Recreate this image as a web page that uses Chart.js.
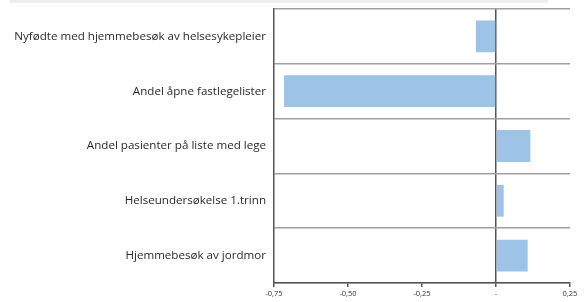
<!DOCTYPE html>
<html>
<head>
<meta charset="utf-8">
<script src="https://cdn.jsdelivr.net/npm/chart.js@4/dist/chart.umd.min.js"></script>
<style>
  html, body { margin: 0; padding: 0; background: #fff; }
  #wrap { position: relative; width: 585px; height: 302px; }
  #topband { position: absolute; left: 10px; top: 0; width: 538px; height: 3px; background: #eeeeee; }
  canvas { position: absolute; left: 0; top: 0; }
</style>
</head>
<body>
<div id="wrap">
  <canvas id="chart" width="585" height="302"></canvas>
  <div id="topband"></div>
</div>
<script>
const categories = [
  "Nyfødte med hjemmebesøk av helsesykepleier",
  "Andel åpne fastlegelister",
  "Andel pasienter på liste med lege",
  "Helseundersøkelse 1.trinn",
  "Hjemmebesøk av jordmor"
];
const values = [-0.068, -0.716, 0.116, 0.026, 0.107];
const tickValues = [-0.75, -0.5, -0.25, 0, 0.25];

const axisColor = "#555";
const gridColor = "#a0a0a0";

// x-akse etiketter med komma, null vises som "-"
function fmt(v) {
  if (Math.abs(v) < 1e-9) return "-";
  return v.toFixed(2).replace(".", ",");
}

const ctx = document.getElementById("chart").getContext("2d");
const chart = new Chart(ctx, {
  type: "bar",
  data: {
    labels: categories,
    datasets: [{
      data: values,
      backgroundColor: "#9dc3e6",
      borderWidth: 0,
      barPercentage: 0.58,
      categoryPercentage: 1
    }]
  },
  options: {
    indexAxis: "y",
    responsive: false,
    animation: false,
    layout: { padding: { top: 9, right: 15, left: 0, bottom: 0 } },
    plugins: { legend: { display: false }, tooltip: { enabled: false } },
    scales: {
      x: {
        min: -0.75,
        max: 0.25,
        afterBuildTicks: s => { s.ticks = tickValues.map(v => ({ value: v })); },
        afterFit: s => { s.height = 19; },
        border: { display: true, color: axisColor, width: 1.5 },
        grid: {
          color: c => (c.tick && c.tick.value === 0 ? axisColor : "transparent"),
          lineWidth: 1.5,
          tickColor: axisColor,
          tickLength: 4,
          drawTicks: true
        },
        ticks: {
          padding: 2,
          color: "#333",
          font: { family: "Open Sans", size: 7.5 },
          maxRotation: 0,
          callback: v => fmt(v)
        }
      },
      y: {
        afterFit: s => { s.width = 274; s.paddingTop = 0; s.paddingBottom = 0; },
        border: { display: true, color: axisColor, width: 1.5 },
        grid: {
          color: gridColor,
          lineWidth: 1.5,
          drawTicks: false,
          offset: true
        },
        ticks: {
          padding: 8,
          color: "#2a2a2a",
          font: { family: "Open Sans", size: 11.6 }
        }
      }
    }
  }
});
console.log(JSON.stringify(chart.chartArea));
</script>
</body>
</html>
